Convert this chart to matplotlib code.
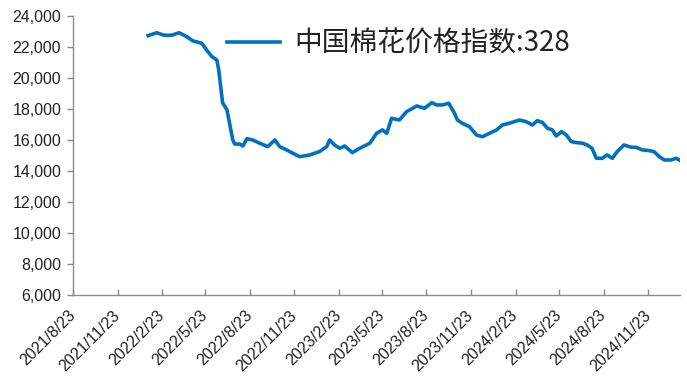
import numpy as np
import pandas as pd
import matplotlib
matplotlib.use("Agg")
import matplotlib.pyplot as plt
import matplotlib.dates as mdates
from matplotlib.ticker import FuncFormatter

# China cotton price index (CC Index 328)
dates = [
    "2022-01-25", "2022-02-12", "2022-02-25", "2022-03-07", "2022-03-17", "2022-03-30",
    "2022-04-15", "2022-04-27", "2022-05-16", "2022-05-26", "2022-06-06", "2022-06-16",
    "2022-06-20", "2022-06-24", "2022-06-28", "2022-07-07", "2022-07-11", "2022-07-19",
    "2022-07-23", "2022-08-02", "2022-08-09", "2022-08-17", "2022-08-29", "2022-09-13",
    "2022-09-29", "2022-10-14", "2022-10-24", "2022-11-07", "2022-11-20", "2022-12-04",
    "2022-12-25", "2023-01-14", "2023-01-29", "2023-02-04", "2023-02-14", "2023-02-25",
    "2023-03-07", "2023-03-23", "2023-04-07", "2023-04-28", "2023-05-12", "2023-05-24",
    "2023-06-02", "2023-06-12", "2023-06-28", "2023-07-13", "2023-08-03", "2023-08-19",
    "2023-09-03", "2023-09-13", "2023-09-25", "2023-10-08", "2023-10-20", "2023-10-26",
    "2023-11-05", "2023-11-20", "2023-12-04", "2023-12-17", "2023-12-31", "2024-01-15",
    "2024-01-27", "2024-02-10", "2024-03-02", "2024-03-16", "2024-03-29", "2024-04-08",
    "2024-04-19", "2024-04-29", "2024-05-09", "2024-05-17", "2024-05-28", "2024-06-07",
    "2024-06-17", "2024-06-28", "2024-07-10", "2024-07-20", "2024-07-30", "2024-08-08",
    "2024-08-20", "2024-08-30", "2024-09-10", "2024-09-20", "2024-10-04", "2024-10-19",
    "2024-10-29", "2024-11-11", "2024-11-25", "2024-12-05", "2024-12-16", "2024-12-26",
    "2025-01-09", "2025-01-20", "2025-01-26",
]
price = [
    22730, 22920, 22775, 22750, 22775, 22920,
    22665, 22400, 22240, 21800, 21375, 21160,
    20520, 19440, 18390, 17940, 17290, 16000,
    15740, 15740, 15615, 16085, 16000, 15790,
    15570, 16000, 15570, 15360, 15145, 14925,
    15035, 15250, 15570, 16000, 15680, 15465,
    15615, 15185, 15465, 15790, 16430, 16650,
    16430, 17400, 17290, 17830, 18195, 18045,
    18410, 18260, 18260, 18370, 17725, 17290,
    17080, 16860, 16325, 16215, 16430, 16650,
    16970, 17080, 17290, 17180, 16970, 17250,
    17120, 16755, 16650, 16260, 16540, 16325,
    15895, 15830, 15790, 15680, 15465, 14820,
    14820, 15035, 14820, 15250, 15680, 15530,
    15530, 15360, 15315, 15250, 14925, 14710,
    14710, 14820, 14710,
]
tick_dates = ["2021-08-23", "2021-11-23", "2022-02-23", "2022-05-23", "2022-08-23",
              "2022-11-23", "2023-02-23", "2023-05-23", "2023-08-23", "2023-11-23",
              "2024-02-23", "2024-05-23", "2024-08-23", "2024-11-23"]
tick_labels = ["2021/8/23", "2021/11/23", "2022/2/23", "2022/5/23", "2022/8/23",
               "2022/11/23", "2023/2/23", "2023/5/23", "2023/8/23", "2023/11/23",
               "2024/2/23", "2024/5/23", "2024/8/23", "2024/11/23"]
y_ticks = [6000, 8000, 10000, 12000, 14000, 16000, 18000, 20000, 22000, 24000]
label = "中国棉花价格指数:328"

plt.rcParams['font.family'] = ['Liberation Sans', 'Noto Sans CJK SC', 'DejaVu Sans']

fig = plt.figure(figsize=(6.87, 3.87), dpi=100)
ax = fig.add_axes([0.1063, 0.2377, 0.8837, 0.721])

x = pd.to_datetime(dates)
ax.plot(x, price, color='#0070C0', lw=2.6, label=label)

ax.set_xlim(pd.Timestamp("2021-08-23"), pd.Timestamp("2025-01-28"))
ax.set_ylim(6000, 24000)
ax.set_yticks(y_ticks)
ax.yaxis.set_major_formatter(FuncFormatter(lambda v, p: f"{int(v):,}"))
ax.set_xticks(pd.to_datetime(tick_dates))
ax.set_xticklabels(tick_labels, rotation=45, ha='right', va='center',
                   rotation_mode='anchor')

for s in ['top', 'right']:
    ax.spines[s].set_visible(False)
for s in ['left', 'bottom']:
    ax.spines[s].set_color('#8c8c8c')
    ax.spines[s].set_linewidth(1.0)

ax.tick_params(axis='y', direction='out', length=4.5, width=1, color='#8c8c8c',
               labelsize=11.5, pad=4, labelcolor='#222222')
ax.tick_params(axis='x', direction='in', length=4.5, width=1, color='#8c8c8c',
               labelsize=11.5, pad=13, labelcolor='#222222')

leg = ax.legend(loc='center left', bbox_to_anchor=(0.213, 0.9), frameon=False,
                handlelength=1.9, handletextpad=0.5,
                prop={'family': ['Noto Sans CJK SC', 'DejaVu Sans'], 'size': 20})
for t in leg.get_texts():
    t.set_color('#222222')

fig.savefig("out.png", dpi=100)
